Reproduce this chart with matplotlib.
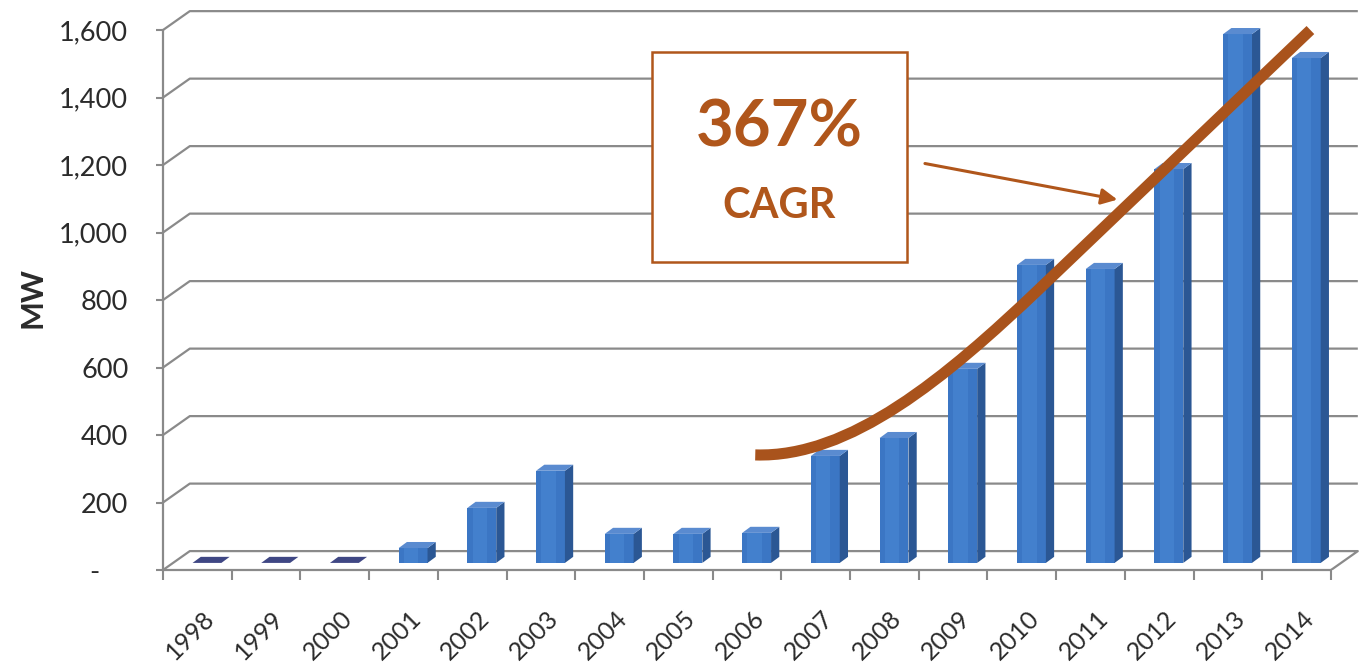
import numpy as np
import matplotlib
matplotlib.use("Agg")
import matplotlib.pyplot as plt
from matplotlib.patches import Rectangle, PathPatch, Polygon
from matplotlib.path import Path

# --- data ---------------------------------------------------------------
years = ['1998', '1999', '2000', '2001', '2002', '2003', '2004', '2005', '2006',
         '2007', '2008', '2009', '2010', '2011', '2012', '2013', '2014']
mw = [0, 0, 0, 44, 163, 273, 86, 86, 89, 317, 370, 575, 883, 871, 1167, 1567, 1496]

y_ticks = [0, 200, 400, 600, 800, 1000, 1200, 1400, 1600]
y_labels = ['-    ', '200', '400', '600', '800', '1,000', '1,200', '1,400', '1,600']

# hand drawn trend curve (bezier control points, category units / MW)
trend_x = [8.12, 9.50, 10.89, 12.27, 16.20]
trend_y = [341, 332, 569, 836, 1600]

cagr_value = '367%'
cagr_label = 'CAGR'

# --- style ----------------------------------------------------------------
plt.rcParams['font.family'] = ['Lato', 'DejaVu Sans']
grid_c = '#8a8a8a'
text_c = '#2b2b2b'
brown = '#b0561b'
curve_c = '#a9531c'
front_c = '#3b76c4'
hi_c = '#4380cd'
side_c = '#2b5794'
top_c = '#5a8bd0'
flat_c = '#3f4784'

# fake 3d geometry
wall_dx, wall_dy = 0.39, 56      # back wall offset
bar_off, bar_w = 0.14, 0.42      # bar front face
base_y = 21                      # bar front base above front floor edge
dep_dx, dep_dy = 0.12, 18        # bar depth

fig = plt.figure(figsize=(13.64, 6.64), dpi=100)
ax = fig.add_axes([163 / 1364, 94 / 664, 1201 / 1364, 570 / 664])
ax.set_xlim(-0.5, 16.98)
ax.set_ylim(0, 1689)

idx = np.arange(len(years))

#--- back wall gridlines + floor ------------------------------------------
for t in y_ticks[1:]:
    ax.plot([-0.5, -0.5 + wall_dx, 16.5 + wall_dx], [t, t + wall_dy, t + wall_dy],
            color=grid_c, lw=1.6, zorder=1, solid_capstyle='butt')
ax.plot([-0.5, -0.5 + wall_dx, 16.5 + wall_dx, 16.5], [0, wall_dy, wall_dy, 0],
        color=grid_c, lw=1.6, zorder=1)

#--- bars -----------------------------------------------------------------
ax.bar(idx + bar_off, mw, width=bar_w, bottom=base_y, color=front_c,
       linewidth=0, zorder=3)
# slightly lighter band on the front face (Excel style shading)
ax.bar(idx + bar_off - 0.03, mw, width=bar_w * 0.5, bottom=base_y, color=hi_c,
       linewidth=0, zorder=3)
for i, v in zip(idx, mw):
    x0 = i + bar_off - bar_w / 2
    x1 = i + bar_off + bar_w / 2
    top = base_y + v
    if v > 0:
        ax.add_patch(Polygon([(x1, base_y), (x1 + dep_dx, base_y + dep_dy),
                              (x1 + dep_dx, top + dep_dy), (x1, top)],
                             closed=True, fc=side_c, ec='none', zorder=3))
    ax.add_patch(Polygon([(x0, top), (x1, top), (x1 + dep_dx, top + dep_dy),
                          (x0 + dep_dx, top + dep_dy)],
                         closed=True, fc=top_c if v > 0 else flat_c,
                         ec='none', zorder=3))

#--- axes -----------------------------------------------------------------
for s in ['top', 'right']:
    ax.spines[s].set_visible(False)
ax.spines['left'].set_bounds(0, 1600)
ax.spines['bottom'].set_bounds(-0.5, 16.5)
for s in ['left', 'bottom']:
    ax.spines[s].set_color(grid_c)
    ax.spines[s].set_linewidth(1.6)

ax.set_yticks(y_ticks, y_labels, fontsize=19.5, color=text_c)
ax.tick_params(axis='y', length=5, width=1.5, color=grid_c, pad=20)

ax.set_xticks(idx + 0.08, years, fontsize=18, color=text_c,
              rotation=45, ha='right', rotation_mode='anchor')
ax.tick_params(axis='x', which='major', length=0, pad=26)
ax.set_xticks(np.arange(-0.5, 17), minor=True)
ax.tick_params(axis='x', which='minor', length=7, width=1.5, color=grid_c)

fig.text(32 / 1364, 1 - 298 / 664, 'MW', rotation=90, fontsize=22,
         weight='bold', color=text_c, ha='center', va='center')

#--- annotation -------------------------------------------------------------
ax.add_patch(Rectangle((6.62, 913), 3.71, 622, fc='white', ec=brown,
                       lw=1.8, zorder=5))
ax.text(8.47, 1310, cagr_value, fontsize=47, weight='bold', color=brown,
        ha='center', va='center', zorder=6)
ax.text(8.47, 1078, cagr_label, fontsize=30, weight='bold', color=brown,
        ha='center', va='center', zorder=6)

ax.annotate('', xy=(13.43, 1096), xytext=(10.55, 1206),
            arrowprops=dict(arrowstyle='-|>', color=brown, lw=2.2,
                            mutation_scale=24), zorder=6)

verts = list(zip(trend_x, trend_y))
codes = [Path.MOVETO, Path.CURVE4, Path.CURVE4, Path.CURVE4, Path.LINETO]
ax.add_patch(PathPatch(Path(verts, codes), fill=False, ec=curve_c, lw=8,
                       capstyle='butt', zorder=7))

plt.savefig('out.png', dpi=100)
